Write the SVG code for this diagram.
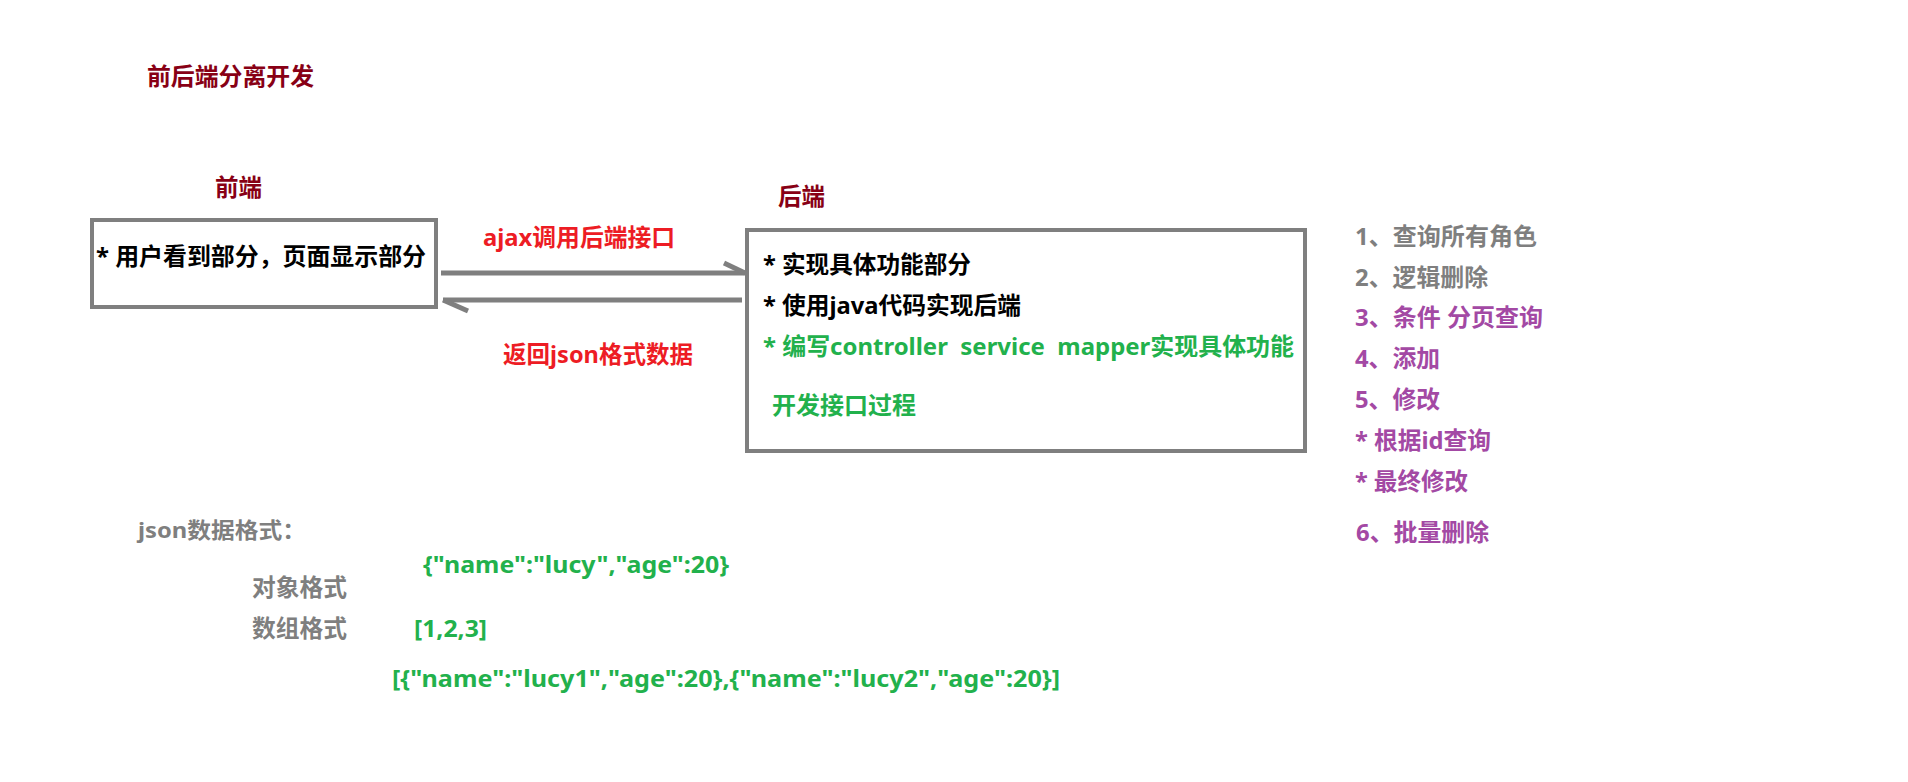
<svg xmlns="http://www.w3.org/2000/svg" width="1908" height="782" viewBox="0 0 1908 782">
<style>
text{font-family:"Noto Sans","Noto Sans CJK SC",sans-serif;font-weight:bold;font-size:24px}
.dr{fill:#880015}
.bk{fill:#000000}
.rd{fill:#ed1c24}
.gn{fill:#22b14c}
.gy{fill:#7f7f7f}
.pp{fill:#a349a4}
.box{fill:#ffffff;stroke:#7f7f7f;stroke-width:4}
.con{stroke:#7f7f7f;stroke-width:5;fill:none;stroke-linecap:butt}
</style>
<rect width="1908" height="782" fill="#ffffff"/>
<g id="title">
<text class="dr" x="147" y="85" textLength="167" lengthAdjust="spacingAndGlyphs">前后端分离开发</text>
</g>
<g id="frontend">
<text class="dr" x="215" y="196" textLength="47" lengthAdjust="spacingAndGlyphs">前端</text>
<rect class="box" x="92" y="220" width="344" height="87"/>
<text class="bk" x="96" y="265" textLength="330" lengthAdjust="spacingAndGlyphs">* 用户看到部分，页面显示部分</text>
</g>
<g id="backend">
<text class="dr" x="778" y="205" textLength="47" lengthAdjust="spacingAndGlyphs">后端</text>
<rect class="box" x="747" y="230" width="558" height="221"/>
<text class="bk" x="763" y="273" textLength="208" lengthAdjust="spacingAndGlyphs">* 实现具体功能部分</text>
<text class="bk" x="763" y="314" textLength="258" lengthAdjust="spacingAndGlyphs">* 使用java代码实现后端</text>
<text class="gn" x="763" y="355" textLength="531" lengthAdjust="spacingAndGlyphs" xml:space="preserve">* 编写controller  service  mapper实现具体功能</text>
<text class="gn" x="772" y="414" textLength="144" lengthAdjust="spacingAndGlyphs">开发接口过程</text>
</g>
<g id="connectors">
<line class="con" x1="441" y1="273" x2="745" y2="273"/>
<line class="con" x1="724" y1="263" x2="745" y2="273"/>
<line class="con" x1="742" y1="300" x2="443" y2="300"/>
<line class="con" x1="443" y1="300" x2="468" y2="311"/>
<text class="rd" x="483" y="246" textLength="192" lengthAdjust="spacingAndGlyphs">ajax调用后端接口</text>
<text class="rd" x="503" y="363" textLength="190" lengthAdjust="spacingAndGlyphs">返回json格式数据</text>
</g>
<g id="tasks">
<text class="gy" x="1355" y="245" textLength="182" lengthAdjust="spacingAndGlyphs">1、查询所有角色</text>
<text class="gy" x="1355" y="286" textLength="133" lengthAdjust="spacingAndGlyphs">2、逻辑删除</text>
<text class="pp" x="1355" y="326" textLength="188" lengthAdjust="spacingAndGlyphs">3、条件 分页查询</text>
<text class="pp" x="1355" y="367" textLength="85" lengthAdjust="spacingAndGlyphs">4、添加</text>
<text class="pp" x="1355" y="408" textLength="85" lengthAdjust="spacingAndGlyphs">5、修改</text>
<text class="pp" x="1355" y="449" textLength="136" lengthAdjust="spacingAndGlyphs">* 根据id查询</text>
<text class="pp" x="1355" y="490" textLength="113" lengthAdjust="spacingAndGlyphs">* 最终修改</text>
<text class="pp" x="1356" y="541" textLength="133" lengthAdjust="spacingAndGlyphs">6、批量删除</text>
</g>
<g id="json">
<text class="gy" x="138" y="538" style="font-size:22px" textLength="168" lengthAdjust="spacingAndGlyphs">json数据格式：</text>
<text class="gy" x="252" y="596" textLength="95" lengthAdjust="spacingAndGlyphs">对象格式</text>
<text class="gy" x="252" y="637" textLength="95" lengthAdjust="spacingAndGlyphs">数组格式</text>
<text class="gn" x="423" y="573" textLength="306" lengthAdjust="spacingAndGlyphs">{"name":"lucy","age":20}</text>
<text class="gn" x="414" y="637" textLength="73" lengthAdjust="spacingAndGlyphs">[1,2,3]</text>
<text class="gn" x="392" y="687" textLength="668" lengthAdjust="spacingAndGlyphs">[{"name":"lucy1","age":20},{"name":"lucy2","age":20}]</text>
</g>
</svg>
